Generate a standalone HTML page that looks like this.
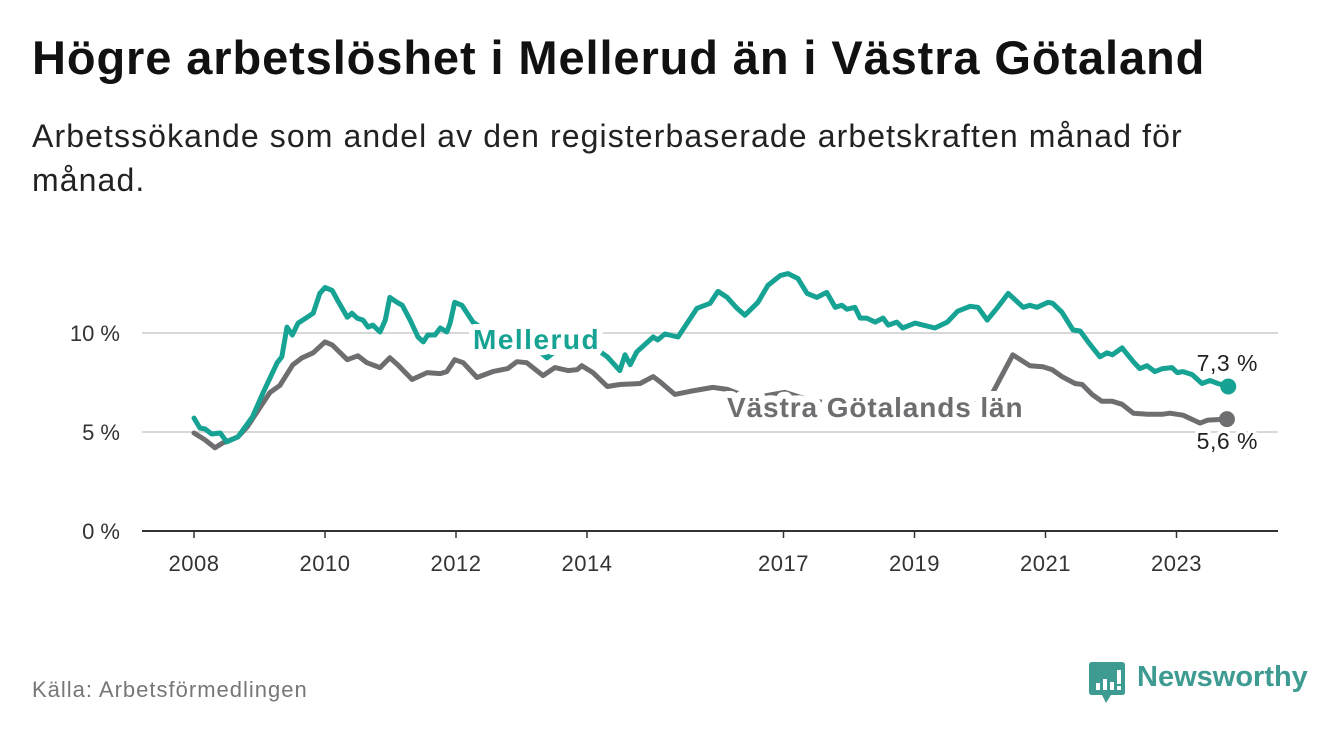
<!DOCTYPE html>
<html><head><meta charset="utf-8">
<style>
body{margin:0;width:1340px;height:734px;background:#fff;font-family:"Liberation Sans",sans-serif;overflow:hidden;position:relative}
#title{position:absolute;left:32px;top:30px;font-size:47px;font-weight:bold;color:#111;margin:0;letter-spacing:0.9px;white-space:nowrap}
#sub{position:absolute;left:32px;top:114px;width:1220px;font-size:32px;line-height:44px;color:#222;margin:0;letter-spacing:1.1px}
#src{position:absolute;left:32px;top:677px;font-size:22px;color:#777;letter-spacing:1px}
#logo{position:absolute;left:1089px;top:662px}
#logotext{position:absolute;left:1137px;top:661px;font-size:29px;font-weight:bold;color:#3d9b91}
svg{position:absolute;left:0;top:0}
</style></head><body>
<h1 id="title">Högre arbetslöshet i Mellerud än i Västra Götaland</h1>
<p id="sub">Arbetssökande som andel av den registerbaserade arbetskraften månad för månad.</p>
<svg id="chart" width="1340" height="734"></svg>
<div id="src">Källa: Arbetsförmedlingen</div>
<svg id="logo" width="38" height="42"><path d="M3 0H33Q36 0 36 3V30Q36 33 33 33H22L17 41L13 33H3Q0 33 0 30V3Q0 0 3 0Z" fill="#3d9b91"/><rect x="7" y="21" width="4" height="7" fill="#fff"/><rect x="14" y="17" width="4" height="11" fill="#fff"/><rect x="21" y="20" width="4" height="8" fill="#fff"/><rect x="28" y="8" width="4" height="14" fill="#fff"/><rect x="28" y="24" width="4" height="4" fill="#fff"/></svg>
<div id="logotext">Newsworthy</div>
<script>
const yTicks=[0,5,10];
const xTicks=[2008,2010,2012,2014,2017,2019,2021,2023];
const mDates=[2008.0,2008.09,2008.17,2008.27,2008.40,2008.50,2008.67,2008.78,2008.89,2009.05,2009.27,2009.34,2009.42,2009.50,2009.59,2009.73,2009.82,2009.92,2010.0,2010.11,2010.20,2010.34,2010.41,2010.49,2010.58,2010.66,2010.73,2010.84,2010.92,2010.99,2011.10,2011.18,2011.30,2011.42,2011.50,2011.57,2011.68,2011.76,2011.86,2011.91,2011.98,2012.09,2012.26,2012.5,2012.8,2013.1,2013.3,2013.39,2013.6,2013.9,2014.1,2014.31,2014.50,2014.58,2014.66,2014.76,2015.01,2015.08,2015.19,2015.39,2015.68,2015.88,2016.0,2016.14,2016.29,2016.41,2016.61,2016.76,2016.95,2017.07,2017.22,2017.36,2017.51,2017.66,2017.79,2017.89,2017.97,2018.09,2018.17,2018.27,2018.40,2018.52,2018.60,2018.73,2018.82,2019.01,2019.13,2019.31,2019.50,2019.66,2019.85,2019.97,2020.11,2020.27,2020.43,2020.66,2020.76,2020.87,2021.04,2021.11,2021.25,2021.42,2021.53,2021.65,2021.83,2021.94,2022.02,2022.17,2022.34,2022.44,2022.55,2022.67,2022.79,2022.93,2023.01,2023.10,2023.24,2023.39,2023.51,2023.63,2023.79];
const mVals=[5.7,5.2,5.15,4.9,4.95,4.5,4.75,5.25,5.75,6.95,8.5,8.8,10.3,9.9,10.5,10.8,11.0,12.0,12.3,12.15,11.6,10.8,11.0,10.75,10.65,10.3,10.4,10.05,10.65,11.8,11.55,11.4,10.65,9.8,9.55,9.9,9.9,10.25,10.05,10.5,11.55,11.4,10.55,10.0,9.6,9.4,9.0,8.75,9.3,9.5,9.3,8.8,8.1,8.9,8.4,9.05,9.8,9.65,9.95,9.8,11.25,11.5,12.1,11.8,11.25,10.9,11.55,12.4,12.9,13.0,12.75,12.0,11.8,12.05,11.3,11.4,11.2,11.3,10.75,10.75,10.55,10.75,10.4,10.55,10.25,10.5,10.4,10.25,10.55,11.1,11.35,11.3,10.65,11.3,12.0,11.3,11.4,11.3,11.55,11.5,11.05,10.15,10.1,9.55,8.8,9.0,8.9,9.25,8.55,8.2,8.35,8.05,8.2,8.25,8.0,8.05,7.9,7.45,7.6,7.45,7.3];
const gDates=[2008.0,2008.17,2008.32,2008.44,2008.67,2008.81,2008.98,2009.16,2009.31,2009.51,2009.65,2009.82,2010.0,2010.11,2010.34,2010.50,2010.64,2010.84,2010.99,2011.11,2011.33,2011.56,2011.76,2011.86,2011.98,2012.11,2012.32,2012.56,2012.79,2012.93,2013.08,2013.33,2013.51,2013.71,2013.85,2013.92,2014.09,2014.31,2014.50,2014.81,2015.01,2015.11,2015.34,2015.57,2015.92,2016.14,2016.5,2017.02,2017.4,2017.8,2018.3,2018.8,2019.3,2019.8,2020.1,2020.18,2020.50,2020.76,2020.96,2021.10,2021.25,2021.45,2021.56,2021.71,2021.86,2022.02,2022.17,2022.34,2022.55,2022.79,2022.90,2023.10,2023.36,2023.48,2023.77];
const gVals=[4.95,4.6,4.2,4.45,4.75,5.25,6.1,7.0,7.35,8.4,8.75,9.0,9.55,9.4,8.65,8.85,8.5,8.25,8.75,8.4,7.65,8.0,7.95,8.05,8.65,8.5,7.75,8.05,8.2,8.55,8.5,7.85,8.25,8.1,8.15,8.35,8.0,7.3,7.4,7.45,7.8,7.55,6.9,7.05,7.25,7.15,6.7,7.0,6.6,6.4,6.3,6.2,6.3,6.4,6.5,6.9,8.9,8.35,8.3,8.15,7.8,7.45,7.4,6.9,6.55,6.55,6.4,5.95,5.9,5.9,5.95,5.85,5.45,5.6,5.65];
const mLabel="7,3 %", gLabel="5,6 %";

const NS="http://www.w3.org/2000/svg";
const svg=document.getElementById('chart');
const X=d=>194+(d-2008)*65.5;
const Y=v=>531-v*19.8;
function el(t,a,p){const e=document.createElementNS(NS,t);for(const k in a)e.setAttribute(k,a[k]);(p||svg).appendChild(e);return e;}
yTicks.forEach(v=>{
  const l=el('line',{x1:142,x2:1278,y1:Y(v),y2:Y(v),stroke:v===0?'#333':'#d8d8d8','stroke-width':2});
  
  
  const t=el('text',{x:120,y:Y(v)+8,'text-anchor':'end','font-size':22,fill:'#333'});
  t.textContent=v+' %';
  
  
});
xTicks.forEach(yr=>{
  const tk=el('line',{x1:X(yr),x2:X(yr),y1:531,y2:538,stroke:'#333','stroke-width':1.5});
  
  
  const t=el('text',{x:X(yr),y:571,'text-anchor':'middle','font-size':22,fill:'#333','letter-spacing':'0.5'});
  t.textContent=yr;
  
  
});
function line(dates,vals,color,name){
  const d=dates.map((t,i)=>(i?'L':'M')+X(t).toFixed(1)+' '+Y(vals[i]).toFixed(1)).join(' ');
  const p=el('path',{d:d,fill:'none',stroke:color,'stroke-width':5,'stroke-linejoin':'round','stroke-linecap':'round'});
  
  
  const n=dates.length-1;
  const c=el('circle',{cx:X(dates[n]),cy:Y(vals[n]),r:8,fill:color});
  
  
}
line(gDates,gVals,'#6e6d70','vastra-gotaland-line');
line(mDates,mVals,'#16a394','mellerud-line');
function label(x,y,txt,color,bold,size,anchor,name,ls,sw){
  const t=el('text',{x:x,y:y,'font-size':size,'font-weight':bold?'bold':'normal',fill:color,stroke:'#fff','stroke-width':sw||7,'paint-order':'stroke','stroke-linejoin':'round','text-anchor':anchor||'start','letter-spacing':ls||0});
  t.textContent=txt;
  
  
}
label(473,349,'Mellerud','#16a394',true,28,'start','mellerud-series-label',1.5,12);
label(727,417,'Västra Götalands län','#6e6d70',true,28,'start','vastra-gotaland-series-label',0.9,14);
label(1258,371,mLabel,'#222',false,23,'end','mellerud-end-value',0.5);
label(1258,449,gLabel,'#222',false,23,'end','vastra-gotaland-end-value',0.5);
</script>
</body></html>
